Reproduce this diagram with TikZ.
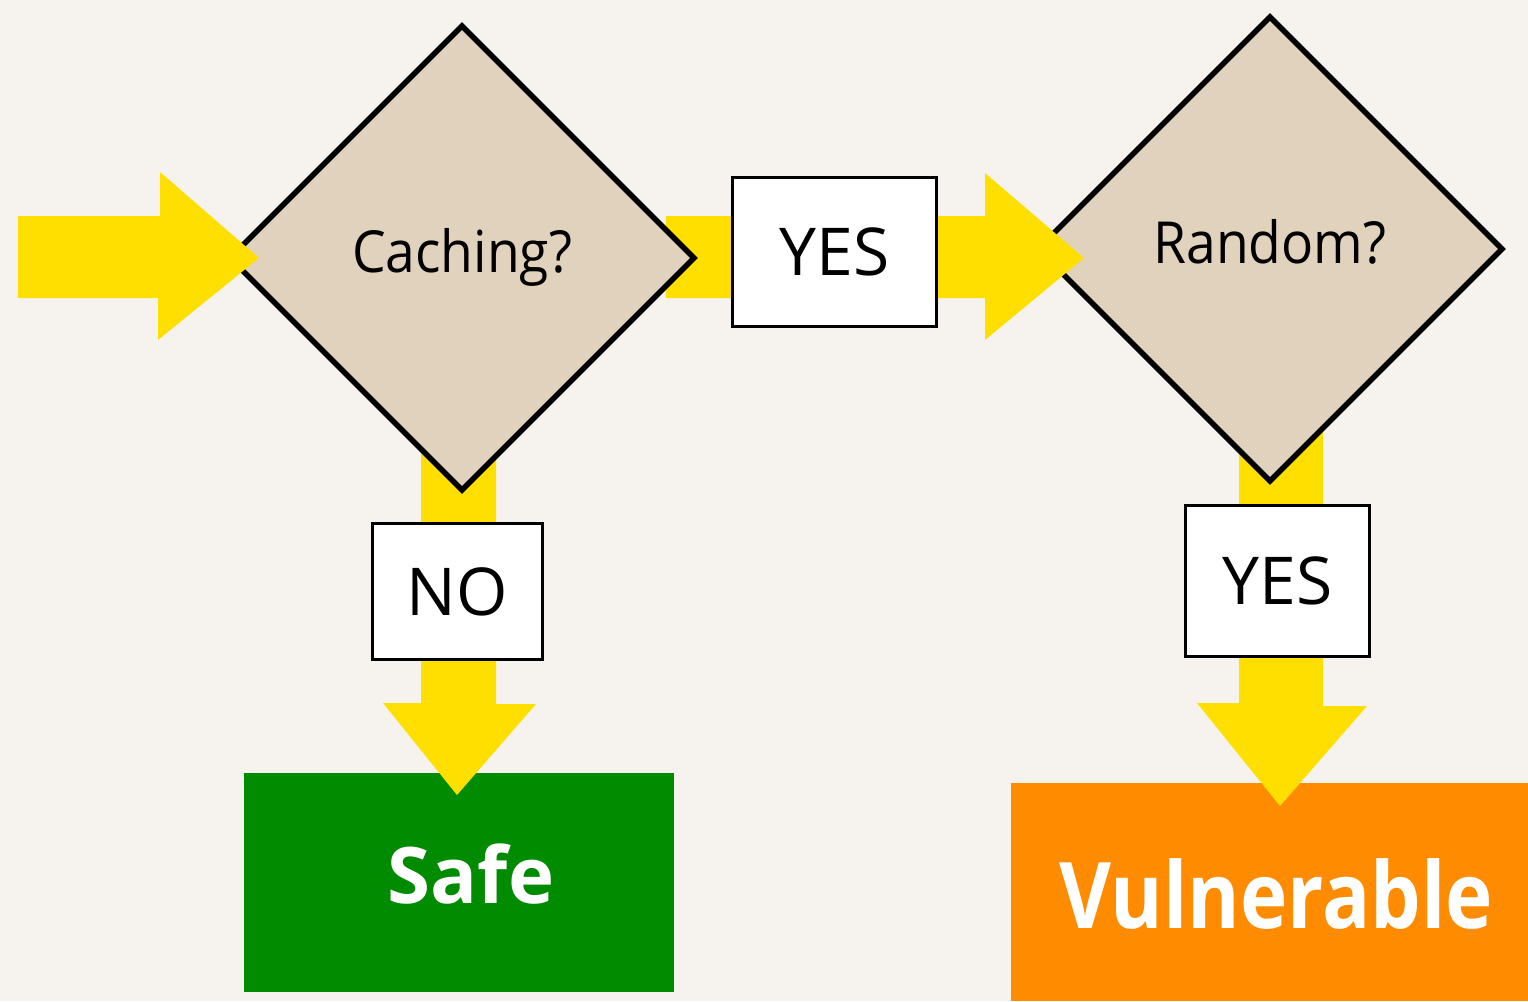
\documentclass[tikz,border=0pt]{standalone}
\usepackage{fontspec}
\setmainfont{Open Sans}
\newfontfamily\qfont{Open Sans}[FakeStretch=0.92]
\newfontfamily\vfont{Open Sans}[FakeStretch=0.87]
\usetikzlibrary{calc}
\definecolor{bgc}{HTML}{F6F3EE}
\definecolor{ayellow}{HTML}{FFDF00}
\definecolor{dfill}{HTML}{E0D2BC}
\definecolor{sgreen}{HTML}{008B00}
\definecolor{vorange}{HTML}{FF8C00}
\tikzset{
  blockarrow/.style={fill=ayellow, draw=none},
  decision/.style={fill=dfill, draw=black, line width=5.5pt, line join=miter},
  answer/.style={draw=black, fill=white, line width=3pt, inner sep=0pt, text height=47pt, text depth=0pt,
    font=\fontsize{66}{80}\selectfont},
  qtext/.style={anchor=base, inner sep=0pt, font=\qfont\fontsize{58}{70}\selectfont},
  result/.style={draw=none, inner sep=0pt},
  restext/.style={anchor=base, inner sep=0pt, text=white, font=\bfseries\fontsize{#1}{#1}\selectfont},
}
\begin{document}
\begin{tikzpicture}[x=1pt,y=-1pt]
\fill[bgc] (0,0) rectangle (1528,1001);
\useasboundingbox (0,0) rectangle (1528,1001);

% result boxes
\node[result, fill=sgreen, minimum width=430pt, minimum height=219pt] (safe) at (459,882.5) {};
\node[result, fill=vorange, minimum width=517pt, minimum height=218pt] (vuln) at (1269.5,892) {};
\node[restext=78] (safetext) at (471,903) {Safe};
\node[restext=92] (vulntext) at (1276,928) {\vfont\bfseries Vulnerable};

% named points of the decisions
\coordinate (d1) at (462,258);
\coordinate (d2) at (1270,249);

% down arrows
\fill[blockarrow] (421,440) -- (496,440) -- (496,704) -- (536,704) -- (457,795) -- (383,703) -- (421,703) -- cycle;
\fill[blockarrow] (1239,430) -- (1323,430) -- (1323,706) -- (1367,706) -- (1280,806) -- (1197,703) -- (1239,703) -- cycle;

% decision 2
\draw[decision] ($(d2)+(0,-232)$) -- ($(d2)+(232,0)$) -- ($(d2)+(0,232)$) -- ($(d2)+(-232,0)$) -- cycle;

% middle arrow
\fill[blockarrow] (666,216) -- (985,216) -- (985,173) -- (1084,258) -- (985,340) -- (985,298) -- (666,298) -- cycle;

% decision 1
\draw[decision] ($(d1)+(0,-232)$) -- ($(d1)+(232,0)$) -- ($(d1)+(0,232)$) -- ($(d1)+(-232,0)$) -- cycle;

% entry arrow
\fill[blockarrow] (18,216) -- (160,216) -- (160,172) -- (259,258) -- (158,340) -- (158,298) -- (18,298) -- cycle;

% question texts
\node[qtext] (q1) at (462,272) {Caching?};
\node[qtext] (q2) at (1270,263) {Random?};

% answer labels
\node[answer, minimum width=204pt, minimum height=149pt] (yes1) at (834.5,252) {YES};
\node[answer, minimum width=170pt, minimum height=136pt] (no1) at (457.5,591.5) {NO};
\node[answer, minimum width=184pt, minimum height=151pt] (yes2) at (1277.5,581) {YES};
\end{tikzpicture}
\end{document}
